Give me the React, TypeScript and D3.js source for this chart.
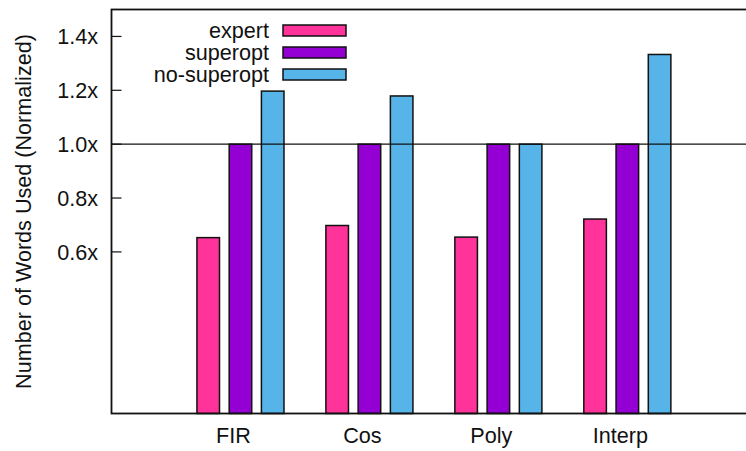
import React from "react";
import * as d3 from "d3";

const categories = ["FIR", "Cos", "Poly", "Interp"];
const seriesNames = ["expert", "superopt", "no-superopt"];
const expert = [0.653, 0.698, 0.655, 0.722];
const superopt = [1.0, 1.0, 1.0, 1.0];
const noSuperopt = [1.197, 1.179, 1.0, 1.333];
const yTicks = [0.6, 0.8, 1.0, 1.2, 1.4];
const colors = ["#ff3399", "#9400d3", "#56b4e9"];

const W = 746;
const H = 451;
const left = 111.5;
const right = 756.3;
const top = 9.5;
const bottom = 413.5;
const font = "'Liberation Sans', Arial, Helvetica, sans-serif";
const fs = 21.6;

export default function App() {
  const x = d3.scaleLinear().domain([-1, 4]).range([left, right]);
  const y = d3.scaleLinear().domain([0, 1.5]).range([bottom, top]);
  const series = [expert, superopt, noSuperopt];
  const bw = x(0.175) - x(0);

  return (
    <svg
      width={W}
      height={H}
      style={{ position: "absolute", left: 0, top: 0, background: "#fff" }}
      fontFamily={font}
    >
      {categories.map((c, i) =>
        series.map((s, j) => {
          const cx = x(i + (j - 1) * 0.25);
          return (
            <rect
              key={c + j}
              x={cx - bw / 2}
              y={y(s[i])}
              width={bw}
              height={y(0) - y(s[i])}
              fill={colors[j]}
              stroke="#111"
              strokeWidth={1.5}
            />
          );
        })
      )}
      <line x1={left} x2={right} y1={y(1)} y2={y(1)} stroke="#111" strokeWidth={1.2} />
      <rect x={left} y={top} width={right - left} height={bottom - top} fill="none" stroke="#111" strokeWidth={1.8} />
      {yTicks.map((t) => (
        <g key={t}>
          <line x1={left} x2={left + 10} y1={y(t)} y2={y(t)} stroke="#111" strokeWidth={1.2} />
          <line x1={right - 10} x2={right} y1={y(t)} y2={y(t)} stroke="#111" strokeWidth={1.2} />
          <text x={98} y={y(t)} dy="0.36em" textAnchor="end" fontSize={fs} fill="#111">
            {t.toFixed(1) + "x"}
          </text>
        </g>
      ))}
      {categories.map((c, i) => (
        <text key={c} x={x(i) - 7} y={443} textAnchor="middle" fontSize={fs} fill="#111">
          {c}
        </text>
      ))}
      <text
        transform={`translate(31,${(top + bottom) / 2}) rotate(-90)`}
        textAnchor="middle"
        fontSize={fs}
        fill="#111"
      >
        Number of Words Used (Normalized)
      </text>
      {seriesNames.map((n, j) => {
        const cy = 30.5 + j * 22;
        return (
          <g key={n}>
            <text x={269} y={cy} dy="0.36em" textAnchor="end" fontSize={fs} fill="#111">
              {n}
            </text>
            <rect x={283} y={cy - 5.5} width={63} height={11} fill={colors[j]} stroke="#111" strokeWidth={1.5} />
          </g>
        );
      })}
    </svg>
  );
}
